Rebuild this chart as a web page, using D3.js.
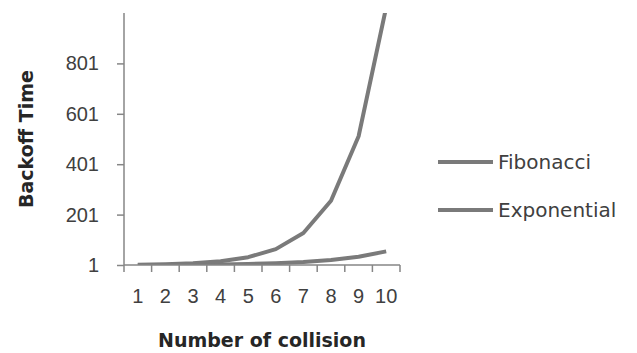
<!DOCTYPE html>
<html>
<head>
<meta charset="utf-8">
<script src="https://cdn.jsdelivr.net/npm/d3@7"></script>
<style>
  body { margin: 0; background: #fff; }
  svg { display: block; font-family: "DejaVu Sans", sans-serif; }
  .tick text { fill: #404040; font-size: 20px; }
  .axis path, .axis line { stroke: #868686; stroke-width: 1.5px; }
  .atitle { fill: #262626; font-size: 19px; font-weight: bold; }
  .series { fill: none; stroke: #7a7a7a; stroke-width: 4px; stroke-linejoin: round; }
  .ltext { fill: #404040; font-size: 20px; }
</style>
</head>
<body>
<svg id="chart" width="637" height="353"></svg>
<script>
'use strict';

const collisions = [1, 2, 3, 4, 5, 6, 7, 8, 9, 10];
const fibonacci = [1, 1, 2, 3, 5, 8, 13, 21, 34, 55];
const exponential = [2, 4, 8, 16, 32, 64, 128, 256, 512, 1024];
const yTicks = [1, 201, 401, 601, 801];
const seriesNames = ['Fibonacci', 'Exponential'];

const svg = d3.select('#chart');
const pLeft = 124, pRight = 400, pTop = 13, pBottom = 265;

const x = d3.scaleBand().domain(collisions).range([pLeft, pRight]);
const y = d3.scaleLinear().domain([1, 1001]).range([pBottom, pTop]);

// plot area clip, exponential runs past the axis max
svg.append('clipPath').attr('id', 'plot')
   .append('rect')
   .attr('x', pLeft).attr('y', pTop)
   .attr('width', pRight - pLeft).attr('height', pBottom - pTop);

const line = d3.line()
  .x((d, i) => x(collisions[i]) + x.bandwidth() / 2)
  .y(d => y(d));

[fibonacci, exponential].map(vals => {
  svg.append('path')
     .attr('class', 'series')
     .attr('clip-path', 'url(#plot)')
     .attr('d', line(vals));
});

// y axis
const yAxis = svg.append('g')
  .attr('class', 'axis')
  .attr('transform', `translate(${pLeft},0)`)
  .call(d3.axisLeft(y).tickValues(yTicks).tickSize(7).tickPadding(18));
yAxis.select('.domain').attr('d', `M0,${pBottom}V${pTop}`);

// x axis, ticks between categories like excel
const xAxis = svg.append('g')
  .attr('class', 'axis')
  .attr('transform', `translate(0,${pBottom})`)
  .call(d3.axisBottom(x).tickSize(0).tickPadding(24));
xAxis.select('.domain').attr('d', `M${pLeft},0H${pRight}`);
xAxis.selectAll('.bound')
  .data(d3.range(collisions.length + 1))
  .join('line')
  .attr('class', 'bound')
  .attr('x1', i => pLeft + i * x.step())
  .attr('x2', i => pLeft + i * x.step())
  .attr('y1', 0).attr('y2', 7);

svg.append('text')
   .attr('class', 'atitle')
   .attr('text-anchor', 'middle')
   .attr('x', (pLeft + pRight) / 2)
   .attr('y', 347)
   .text('Number of collision');

svg.append('text')
   .attr('class', 'atitle')
   .attr('text-anchor', 'middle')
   .attr('transform', 'translate(33,139) rotate(-90)')
   .text('Backoff Time');

// legend
const legend = svg.append('g').selectAll('g')
  .data(seriesNames)
  .join('g')
  .attr('transform', (d, i) => `translate(438,${162 + i * 48})`);
legend.append('line')
  .attr('class', 'series')
  .attr('x1', 0).attr('x2', 55);
legend.append('text')
  .attr('class', 'ltext')
  .attr('x', 60)
  .attr('dy', '0.35em')
  .text(d => d);
</script>
</body>
</html>
